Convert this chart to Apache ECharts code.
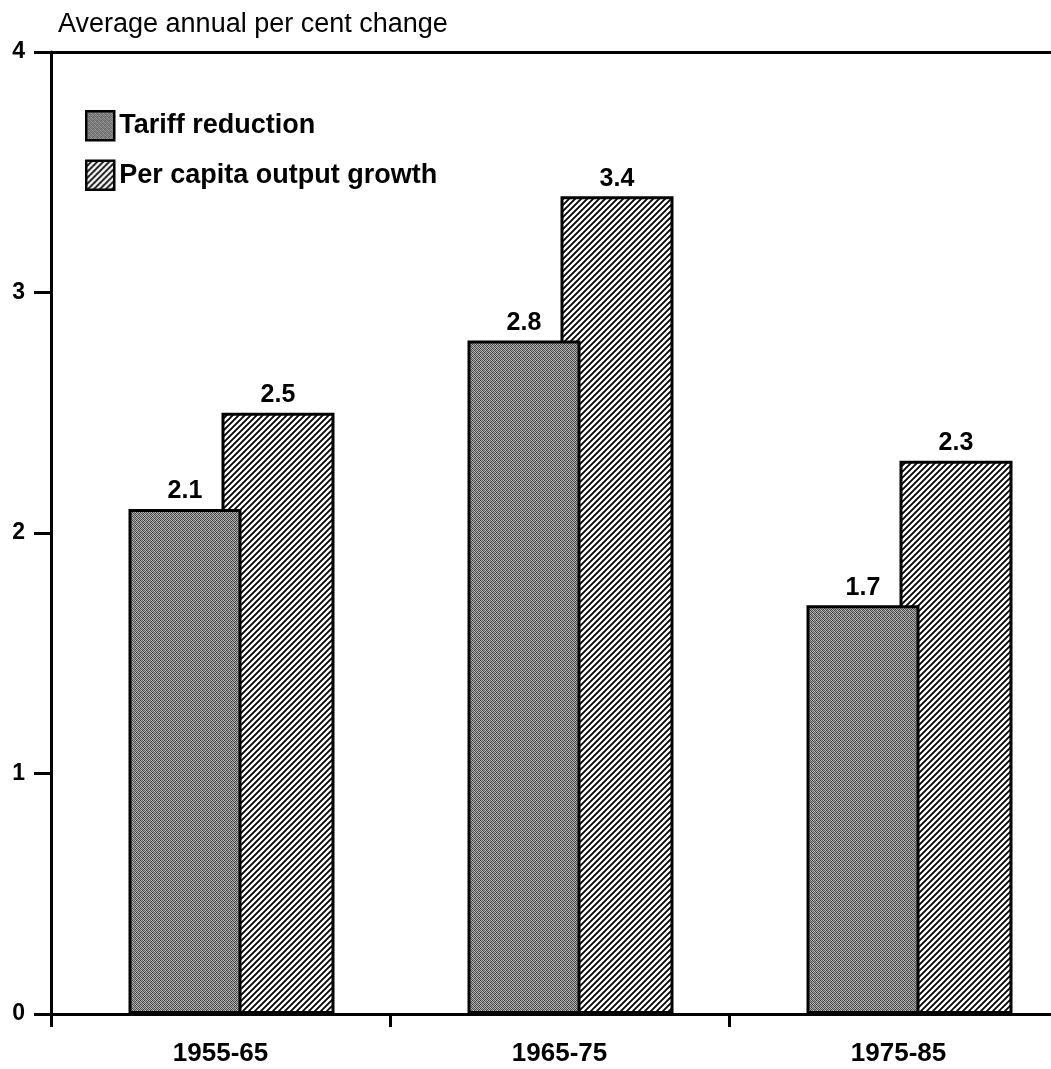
<!DOCTYPE html>
<html>
<head>
<meta charset="utf-8">
<script src="https://cdn.jsdelivr.net/npm/echarts@6/dist/echarts.min.js"></script>
<style>
html,body{margin:0;padding:0;background:#fff;}
#chart{width:1051px;height:1069px;}
</style>
</head>
<body>
<div id="chart"></div>
<script>
const categories = ['1955-65', '1965-75', '1975-85'];
const tariffReduction = [2.1, 2.8, 1.7];
const outputGrowth = [2.5, 3.4, 2.3];
const seriesNames = ['Tariff reduction', 'Per capita output growth'];
const yTicks = [0, 1, 2, 3, 4];

function hatchPattern() {
  const c = document.createElement('canvas');
  const s = 6;
  c.width = s; c.height = s;
  const g = c.getContext('2d');
  g.fillStyle = '#fff';
  g.fillRect(0, 0, s, s);
  g.strokeStyle = '#000';
  g.lineWidth = 1.8;
  g.beginPath();
  g.moveTo(-1, s + 1); g.lineTo(s + 1, -1);
  g.moveTo(-1, 1); g.lineTo(1, -1);
  g.moveTo(s - 1, s + 1); g.lineTo(s + 1, s - 1);
  g.stroke();
  return c;
}
function grainPattern() {
  const c = document.createElement('canvas');
  const s = 4;
  c.width = s; c.height = s;
  const g = c.getContext('2d');
  const shades = [
    ['#3c3c3c', '#a8a8a8', '#626262', '#b8b8b8'],
    ['#b0b0b0', '#505050', '#9c9c9c', '#484848'],
    ['#666666', '#bcbcbc', '#444444', '#969696'],
    ['#a0a0a0', '#585858', '#b4b4b4', '#4e4e4e']
  ];
  for (let y = 0; y < s; y++) for (let x = 0; x < s; x++) {
    g.fillStyle = shades[y][x];
    g.fillRect(x, y, 1, 1);
  }
  return c;
}

const chart = echarts.init(document.getElementById('chart'), null, {renderer: 'canvas'});
const font = '"Liberation Sans", Arial, Helvetica, sans-serif';
const labelStyle = {show: true, position: 'top', distance: 5, color: '#000', fontFamily: font, fontWeight: 'bold', fontSize: 25};
const axisColor = '#000';
const gridBox = {top: 52, bottom: 55, width: 1017, containLabel: false, outerBoundsMode: 'none'};

chart.setOption({
  backgroundColor: '#fff',
  animation: false,
  title: {
    text: 'Average annual per cent change',
    left: 53, top: 6,
    textStyle: {fontFamily: font, fontWeight: 'normal', fontSize: 27, color: '#000'}
  },
  legend: {
    orient: 'vertical',
    left: 85, top: 110, padding: 0,
    itemWidth: 28, itemHeight: 29, itemGap: 18,
    icon: 'rect',
    data: seriesNames,
    textStyle: {fontFamily: font, fontWeight: 'bold', fontSize: 27, color: '#000'},
    itemStyle: {borderColor: '#000', borderWidth: 2.5}
  },
  grid: [
    Object.assign({left: 51}, gridBox),
    Object.assign({left: 62}, gridBox)
  ],
  xAxis: [
    {
      type: 'category', gridIndex: 0, data: categories,
      axisLine: {lineStyle: {color: axisColor, width: 3}},
      axisTick: {show: true, length: 13, lineStyle: {color: axisColor, width: 3}},
      axisLabel: {color: '#000', fontFamily: font, fontWeight: 'bold', fontSize: 26, margin: 27}
    },
    {
      type: 'category', gridIndex: 0, data: categories, position: 'top',
      axisLine: {lineStyle: {color: axisColor, width: 3}},
      axisTick: {show: false}, axisLabel: {show: false}
    },
    {type: 'category', gridIndex: 1, data: categories, show: false}
  ],
  yAxis: [
    {
      type: 'value', gridIndex: 0,
      min: yTicks[0], max: yTicks[yTicks.length - 1], interval: 1,
      axisLine: {show: true, lineStyle: {color: axisColor, width: 3}},
      axisTick: {show: true, length: 17, lineStyle: {color: axisColor, width: 3}},
      splitLine: {show: false},
      axisLabel: {color: '#000', fontFamily: font, fontWeight: 'bold', fontSize: 23, margin: 26, padding: [0, 0, 12, 0]}
    },
    {
      type: 'value', gridIndex: 1, show: false,
      min: yTicks[0], max: yTicks[yTicks.length - 1], interval: 1,
      splitLine: {show: false}
    }
  ],
  series: [
    {
      name: seriesNames[0],
      type: 'bar', xAxisIndex: 2, yAxisIndex: 1,
      data: tariffReduction,
      barWidth: 113,
      barGap: '-17.7%',
      z: 3,
      itemStyle: {color: {image: grainPattern(), repeat: 'repeat'}, borderColor: '#000', borderWidth: 3},
      label: labelStyle
    },
    {
      name: seriesNames[1],
      type: 'bar', xAxisIndex: 2, yAxisIndex: 1,
      data: outputGrowth,
      barWidth: 113,
      barGap: '-17.7%',
      z: 2,
      itemStyle: {color: {image: hatchPattern(), repeat: 'repeat'}, borderColor: '#000', borderWidth: 3},
      label: labelStyle
    }
  ]
});
</script>
</body>
</html>
